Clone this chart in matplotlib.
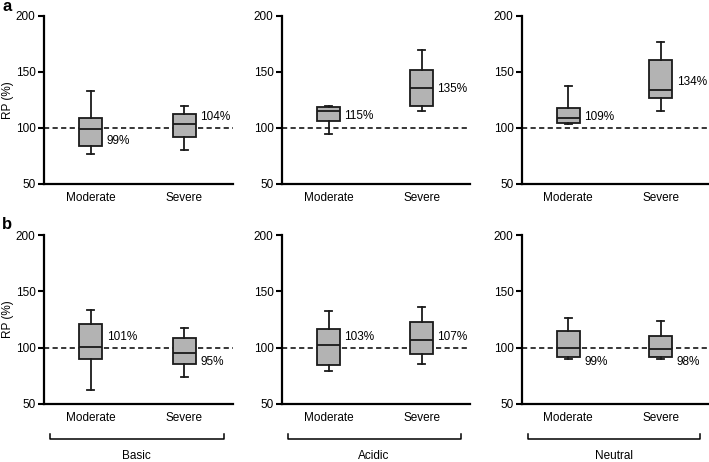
import matplotlib
matplotlib.use("Agg")
import matplotlib.pyplot as plt

plt.rcParams['font.family'] = ['Liberation Sans', 'DejaVu Sans']

# ---------------- data ----------------
groups = ["Basic", "Acidic", "Neutral"]
categories = ["Moderate", "Severe"]

# row a: [whislo, q1, med, q3, whishi] per category per group
a_basic   = [[77, 84, 99.4, 109, 133], [80.5, 91.7, 103.6, 112.5, 119.6]]
a_acidic  = [[94.3, 106.3, 114.9, 118.8, 119.6], [114.9, 119.6, 135.7, 151.5, 170]]
a_neutral = [[103.3, 104.5, 108.6, 118.2, 137.5], [114.9, 127.1, 133.9, 160.7, 176.8]]
a_labels = [["99%", "104%"], ["115%", "135%"], ["109%", "134%"]]

# row b
b_basic   = [[62.4, 89.6, 100.9, 121, 133.4], [74.3, 85.1, 95.6, 108.3, 117.5]]
b_acidic  = [[79.3, 84.9, 102.7, 116.6, 132.2], [85.2, 94.1, 106.8, 122.8, 136.1]]
b_neutral = [[90.2, 91.7, 100, 115.1, 126.3], [90.2, 91.7, 98.5, 110.4, 124]]
b_labels = [["101%", "95%"], ["103%", "107%"], ["99%", "98%"]]

reference_value = 100
yticks = [50, 100, 150, 200]

# label vertical placement (layout)
a_label_y = [[88.7, 109.5], [111, 135.1], [110, 141]]
b_label_y = [[109.2, 87], [109.2, 109.2], [87.3, 87.3]]

# ---------------- layout ----------------
fig = plt.figure(figsize=(7.09, 4.62), dpi=100)
lefts = [44 / 709, 282 / 709, 522 / 709]
widths = [189 / 709, 188 / 709, 187 / 709]
row_a = (1 - 184 / 462, 168 / 462)
row_b = (1 - 404 / 462, 169 / 462)

box_color = '#b3b3b3'
edge = '#1a1a1a'
fs = 8.5


def make_stats(data):
    out = []
    for d in data:
        out.append(dict(whislo=d[0], q1=d[1], med=d[2], q3=d[3], whishi=d[4], fliers=[]))
    return out


def draw_panel(ax, data, labels, label_y, ylabel):
    stats = make_stats(data)
    ax.axhline(reference_value, color='black', lw=1.1, ls=(0, (3.4, 2.2)), zorder=1)
    ax.bxp(stats, positions=[0, 1], widths=0.25, capwidths=0.075, patch_artist=True,
           showfliers=False,
           boxprops=dict(facecolor=box_color, edgecolor=edge, linewidth=1.3),
           medianprops=dict(color=edge, linewidth=1.3),
           whiskerprops=dict(color=edge, linewidth=1.3),
           capprops=dict(color=edge, linewidth=1.3), zorder=3)
    for i, (lab, yy) in enumerate(zip(labels, label_y)):
        ax.text(i + 0.17, yy, lab, ha='left', va='center', fontsize=fs, zorder=4)
    ax.set_xlim(-0.5, 1.52)
    ax.set_ylim(50, 200)
    ax.set_yticks(yticks)
    ax.set_xticks([0, 1])
    ax.set_xticklabels(categories, fontsize=fs)
    ax.tick_params(axis='x', length=0, pad=6)
    ax.tick_params(axis='y', length=4, width=1.5, labelsize=fs, pad=2, direction='out')
    for s in ['top', 'right']:
        ax.spines[s].set_visible(False)
    for s in ['left', 'bottom']:
        ax.spines[s].set_linewidth(1.6)
    if ylabel:
        ax.set_ylabel("RP (%)", fontsize=fs, labelpad=1)


rows_a = [a_basic, a_acidic, a_neutral]
rows_b = [b_basic, b_acidic, b_neutral]

for j in range(3):
    ax = fig.add_axes([lefts[j], row_a[0], widths[j], row_a[1]])
    draw_panel(ax, rows_a[j], a_labels[j], a_label_y[j], j == 0)

for j in range(3):
    ax = fig.add_axes([lefts[j], row_b[0], widths[j], row_b[1]])
    draw_panel(ax, rows_b[j], b_labels[j], b_label_y[j], j == 0)
    # group bracket
    x0, x1 = 0.03, 0.95
    yb, yt = -0.207, -0.178
    ax.plot([x0, x0, x1, x1], [yt, yb, yb, yt], transform=ax.transAxes,
            color='black', lw=1.1, clip_on=False)
    ax.text(0.49, -0.305, groups[j], transform=ax.transAxes, ha='center', va='center',
            fontsize=fs)

fig.text(0.003, 0.985, 'a', fontsize=12, fontweight='bold', ha='left', va='center')
fig.text(0.003, 0.515, 'b', fontsize=12, fontweight='bold', ha='left', va='center')

fig.savefig('out.png', dpi=100)
